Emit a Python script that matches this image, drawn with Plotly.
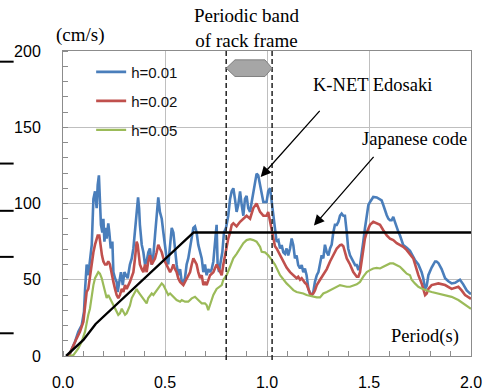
import plotly.graph_objects as go

# ---------------- data ----------------
period_h001 = [0.025, 0.034, 0.059, 0.075, 0.092, 0.103, 0.108, 0.116, 0.124, 0.132, 0.141, 0.149, 0.157, 0.165, 0.170, 0.176, 0.181, 0.186, 0.193, 0.198,
               0.203, 0.209, 0.214, 0.222, 0.227, 0.234, 0.242, 0.247, 0.255, 0.263, 0.268, 0.276, 0.284, 0.293, 0.301, 0.309, 0.317, 0.328, 0.337, 0.345,
               0.353, 0.361, 0.368, 0.373, 0.377, 0.386, 0.394, 0.402, 0.410, 0.418, 0.426, 0.435, 0.443, 0.451, 0.459, 0.467, 0.475, 0.484, 0.492, 0.500,
               0.508, 0.516, 0.525, 0.533, 0.541, 0.549, 0.557, 0.565, 0.574, 0.582, 0.590, 0.598, 0.606, 0.614, 0.623, 0.631, 0.639, 0.647, 0.655, 0.663,
               0.672, 0.680, 0.688, 0.696, 0.704, 0.712, 0.721, 0.729, 0.737, 0.745, 0.753, 0.758, 0.765, 0.773, 0.781, 0.789, 0.799, 0.810, 0.819, 0.827,
               0.835, 0.843, 0.851, 0.859, 0.868, 0.876, 0.884, 0.892, 0.900, 0.908, 0.917, 0.925, 0.933, 0.941, 0.949, 0.957, 0.966, 0.974, 0.982, 0.998,
               1.006, 1.015, 1.023, 1.031, 1.039, 1.047, 1.056, 1.064, 1.072, 1.080, 1.088, 1.096, 1.104, 1.113, 1.121, 1.129, 1.137, 1.145, 1.153, 1.162,
               1.170, 1.178, 1.186, 1.194, 1.203, 1.211, 1.219, 1.227, 1.235, 1.244, 1.252, 1.260, 1.268, 1.276, 1.284, 1.293, 1.301, 1.309, 1.317, 1.325,
               1.333, 1.342, 1.350, 1.358, 1.366, 1.374, 1.382, 1.391, 1.398, 1.407, 1.415, 1.423, 1.432, 1.440, 1.448, 1.456, 1.464, 1.472, 1.480, 1.489,
               1.497, 1.505, 1.513, 1.521, 1.538, 1.554, 1.562, 1.570, 1.579, 1.587, 1.595, 1.603, 1.611, 1.619, 1.627, 1.636, 1.644, 1.652, 1.660, 1.668,
               1.685, 1.701, 1.709, 1.725, 1.742, 1.758, 1.766, 1.775, 1.783, 1.791, 1.807, 1.824, 1.831, 1.840, 1.856, 1.873, 1.889, 1.905, 1.922, 1.938,
               1.946, 1.962, 1.979, 1.995, 2.000]
sv_h001 = [0, 1.8, 9.4, 15.9, 20.3, 29, 43, 60, 53, 64, 73, 103, 108, 97, 112, 118.5, 105, 86, 81, 90,
           75, 84, 77, 87, 81, 70.5, 75, 55, 51, 48.6, 42, 48.6, 55, 46.5, 55, 53, 51, 60, 64, 70.5,
           81, 92, 104, 97, 86, 73, 68, 60, 62, 68, 70.5, 60, 66, 79, 92, 104, 94.5, 90, 81, 73,
           64, 60, 70.5, 84, 81, 68, 60, 53, 57, 48.6, 48.6, 51, 60, 64, 70.5, 77, 84, 85, 81, 73,
           68, 64, 55, 60, 53, 57, 55, 57, 62, 73, 86, 60, 55, 62, 68, 81, 84, 92, 103, 108,
           110, 103, 94.5, 99, 108, 99, 92, 103, 105, 97, 94.5, 101, 108, 114, 119.6, 118.5, 112, 105, 101, 101,
           108, 110, 101, 90, 81, 75, 76, 70.5, 72.7, 68, 67, 70.5, 66, 70.5, 77, 72.7, 64, 66, 59.6, 57.4,
           59.6, 55, 57.4, 53, 44, 41, 40, 42, 48.6, 53, 55, 62, 66, 64, 73, 68, 66, 70.5, 73, 81,
           86, 86, 88, 92, 93.4, 92, 92, 81, 70.5, 66, 64, 61.7, 59.6, 59.6, 56.3, 59.6, 66, 75, 83.6, 92.3,
           99, 101, 103, 104.3, 104, 103, 102, 99, 94.5, 92.3, 90, 89, 89, 91.2, 88, 83.6, 81.4, 79, 76, 72.7,
           71, 69, 67, 63, 60, 55, 51, 44, 46, 53, 58, 62, 62, 61, 57, 51, 49, 47.6, 48, 49,
           50, 47, 43, 41, 41]

period_h002 = [0.025, 0.034, 0.067, 0.083, 0.100, 0.108, 0.116, 0.124, 0.132, 0.141, 0.149, 0.157, 0.165, 0.170, 0.178, 0.185, 0.191, 0.198, 0.206, 0.214,
               0.222, 0.230, 0.239, 0.247, 0.255, 0.263, 0.271, 0.279, 0.288, 0.296, 0.304, 0.312, 0.328, 0.345, 0.353, 0.361, 0.366, 0.373, 0.377, 0.386,
               0.394, 0.402, 0.410, 0.418, 0.426, 0.435, 0.443, 0.451, 0.459, 0.467, 0.475, 0.484, 0.492, 0.500, 0.508, 0.516, 0.525, 0.533, 0.541, 0.549,
               0.557, 0.565, 0.574, 0.590, 0.606, 0.623, 0.631, 0.639, 0.647, 0.655, 0.663, 0.672, 0.680, 0.688, 0.696, 0.704, 0.721, 0.737, 0.753, 0.770,
               0.778, 0.786, 0.794, 0.802, 0.810, 0.819, 0.827, 0.835, 0.851, 0.868, 0.884, 0.900, 0.917, 0.933, 0.949, 0.966, 0.982, 0.998, 1.006, 1.015,
               1.023, 1.031, 1.039, 1.047, 1.064, 1.080, 1.096, 1.113, 1.129, 1.145, 1.153, 1.162, 1.170, 1.178, 1.186, 1.194, 1.203, 1.211, 1.219, 1.227,
               1.235, 1.244, 1.260, 1.276, 1.293, 1.309, 1.325, 1.342, 1.358, 1.366, 1.374, 1.382, 1.391, 1.407, 1.423, 1.440, 1.448, 1.456, 1.464, 1.472,
               1.480, 1.489, 1.505, 1.521, 1.538, 1.554, 1.570, 1.587, 1.603, 1.619, 1.636, 1.652, 1.668, 1.685, 1.701, 1.717, 1.742, 1.758, 1.775, 1.783,
               1.791, 1.807, 1.840, 1.873, 1.905, 1.938, 1.954, 1.971, 2.000]
sv_h002 = [0, 1.8, 11.6, 15.9, 22.5, 33.4, 42, 44, 53, 60, 68, 73, 77, 79, 79, 70.5, 66, 62, 60, 60,
           62, 60, 53, 48.6, 44, 40, 38, 40, 44, 42, 46.5, 44, 48.6, 55, 64, 75, 73, 64, 60, 57,
           55, 60, 55, 62, 66, 60, 62, 64, 68, 73, 70.5, 68, 64, 62, 60, 57, 55, 57, 60, 57,
           55, 51, 48.6, 46.5, 51, 55, 60, 64, 62, 60, 55, 51, 53, 46.5, 48.6, 46.5, 53, 55, 60, 55,
           53, 60, 66, 73, 77, 81, 86, 87, 85, 88, 90, 92, 90, 97, 100, 94.5, 92, 92, 94.5, 88,
           81, 77, 72, 70.5, 66, 62, 58, 55, 53, 51, 52, 50, 51, 49, 48, 47, 44, 41, 40, 41,
           43, 46.5, 50, 53, 57, 62, 66, 70.5, 72.7, 73, 72, 68, 64, 60, 55, 52, 52, 55, 62, 70.5,
           77, 81, 86, 88, 87, 86, 82.5, 79, 77, 76, 74, 73, 71.6, 69.4, 67, 64, 53, 47.6, 40, 41,
           44, 46.5, 47.6, 46.5, 44, 45.4, 43, 40, 37.5]

period_h005 = [0.030, 0.051, 0.075, 0.092, 0.108, 0.116, 0.124, 0.132, 0.141, 0.149, 0.157, 0.165, 0.173, 0.181, 0.190, 0.198, 0.206, 0.214, 0.222, 0.230,
               0.239, 0.247, 0.255, 0.263, 0.271, 0.279, 0.288, 0.296, 0.304, 0.312, 0.320, 0.328, 0.337, 0.345, 0.353, 0.361, 0.369, 0.386, 0.402, 0.410,
               0.418, 0.435, 0.443, 0.459, 0.475, 0.484, 0.492, 0.508, 0.516, 0.525, 0.541, 0.557, 0.574, 0.582, 0.598, 0.614, 0.631, 0.647, 0.663, 0.680,
               0.696, 0.704, 0.712, 0.721, 0.729, 0.737, 0.753, 0.770, 0.778, 0.786, 0.802, 0.819, 0.835, 0.851, 0.868, 0.884, 0.900, 0.917, 0.933, 0.949,
               0.966, 0.974, 0.990, 1.006, 1.023, 1.039, 1.064, 1.080, 1.096, 1.113, 1.129, 1.145, 1.162, 1.178, 1.194, 1.211, 1.227, 1.244, 1.260, 1.276,
               1.293, 1.309, 1.342, 1.358, 1.391, 1.407, 1.440, 1.456, 1.472, 1.489, 1.505, 1.521, 1.538, 1.554, 1.570, 1.587, 1.603, 1.619, 1.636, 1.652,
               1.668, 1.685, 1.701, 1.709, 1.725, 1.742, 1.758, 1.775, 1.791, 1.807, 1.840, 1.873, 1.905, 1.938, 1.971, 2.000]
sv_h005 = [0, 0.6, 5, 9.4, 16, 22.5, 27, 31, 40, 46.5, 51, 53, 55, 54, 51, 46.5, 42, 38, 40, 38,
           35.6, 33.4, 31, 29, 27, 28, 31, 29, 27, 28, 31, 33, 38, 40, 43, 44, 42, 39, 35.6, 34.5,
           38, 41, 40, 43, 46.5, 47.6, 46.5, 42, 40, 41, 39, 36.7, 35.6, 36.7, 35.6, 35.6, 37.8, 38.8, 36.7, 34.5,
           34.5, 33.4, 30, 33.4, 37.8, 40, 44, 45.4, 46.5, 50, 53, 58.5, 64, 67, 70.5, 74, 76, 76.6, 76, 75,
           71.6, 68.3, 68, 66, 63, 60, 53, 50, 47.6, 45.4, 43.2, 42, 41.7, 41, 40, 39.5, 38.8, 38.4, 38.4, 41,
           42, 43, 45.4, 46.5, 45.4, 45.4, 47, 48.6, 52, 55, 56.3, 57.4, 57.8, 57.4, 58.5, 59.6, 60.7, 60.7, 59.6, 58.5,
           56.3, 54, 53, 50, 47.6, 45.4, 44.3, 43.2, 42.6, 42, 41, 40, 38.8, 36.7, 33.4, 31]

period_code = [0.015, 0.100, 0.160, 0.640, 2.000]
sv_code = [0, 10.5, 21, 81, 81]

band_bounds = [0.80, 1.025]          # periodic band of rack frame
series_names = ["h=0.01", "h=0.02", "h=0.05"]
series_colors = ["#4A7EBB", "#C0504D", "#9BBB59"]
x_ticks = [0.0, 0.5, 1.0, 1.5, 2.0]
y_ticks = [0, 50, 100, 150, 200]
side_marks = [193.0, 126.2, 95.2, 65.0, 14.9]   # stray marks on the left edge

# ---------------- figure ----------------
fig = go.Figure()
series = [(period_h001, sv_h001), (period_h002, sv_h002), (period_h005, sv_h005)]
widths = [2.6, 2.6, 2.2]
for i, (px_, py_) in enumerate(series):
    fig.add_trace(go.Scatter(x=px_, y=py_, mode="lines", name=series_names[i],
                             legendgroup=series_names[i],
                             line=dict(color=series_colors[i], width=widths[i])))
fig.add_trace(go.Scatter(x=period_code, y=sv_code, mode="lines", showlegend=False,
                         line=dict(color="black", width=2.4)))

serif = "Liberation Serif"
sans = "Liberation Sans"

shapes = []
for b in band_bounds:
    shapes.append(dict(type="line", xref="x", yref="paper", x0=b, x1=b, y0=-0.013, y1=1.0,
                       line=dict(color="#222222", width=1.5, dash="5px,3px")))
# hexagon band marker
hx = [band_bounds[0], 0.843, 0.990, band_bounds[1]]
shapes.append(dict(type="path", xref="x", yref="y",
                   path=f"M {hx[0]},188.7 L {hx[1]},194.2 L {hx[2]},194.2 L {hx[3]},188.7 L {hx[2]},183.3 L {hx[1]},183.3 Z",
                   fillcolor="#A6A6A6", line=dict(color="#808080", width=1)))
for m in side_marks:
    shapes.append(dict(type="line", xref="paper", yref="y", x0=-0.155, x1=-0.121, y0=m, y1=m,
                       line=dict(color="black", width=2)))

annotations = [
    dict(text="(cm/s)", x=0.044, y=1.01, xref="paper", yref="paper", xanchor="center", yanchor="bottom",
         showarrow=False, font=dict(family=serif, size=19, color="black")),
    dict(text="Periodic band<br>of rack frame", x=0.9, y=0.993, xref="x", yref="paper",
         xanchor="center", yanchor="bottom", showarrow=False,
         font=dict(family=serif, size=19, color="black")),
    dict(text="K-NET Edosaki", x=1.518, y=178, xref="x", yref="y", xanchor="center", yanchor="middle",
         showarrow=False, font=dict(family=serif, size=18.5, color="black")),
    dict(text="Japanese code", x=1.725, y=142, xref="x", yref="y", xanchor="center", yanchor="middle",
         showarrow=False, font=dict(family=serif, size=18.5, color="black")),
    dict(text="Period(s)", x=1.775, y=12.5, xref="x", yref="y", xanchor="center", yanchor="middle",
         showarrow=False, font=dict(family=serif, size=18.5, color="black")),
    dict(x=0.969, y=117.4, ax=1.265, ay=161.7, xref="x", yref="y", axref="x", ayref="y", text="",
         showarrow=True, arrowhead=2, arrowsize=1.6, arrowwidth=1.3, arrowcolor="black"),
    dict(x=1.230, y=85.5, ax=1.529, ay=131.6, xref="x", yref="y", axref="x", ayref="y", text="",
         showarrow=True, arrowhead=2, arrowsize=1.6, arrowwidth=1.3, arrowcolor="black"),
]

fig.update_layout(
    width=485, height=390,
    margin=dict(l=63, r=14, t=51, b=34),
    paper_bgcolor="white", plot_bgcolor="white",
    showlegend=True,
    legend=dict(x=0.069, y=0.985, xanchor="left", yanchor="top", bgcolor="rgba(0,0,0,0)",
                font=dict(family=sans, size=15, color="#111111"), tracegroupgap=6.5,
                itemwidth=30),
    shapes=shapes,
    annotations=annotations,
    font=dict(family=sans, size=16, color="black"),
)
fig.update_xaxes(range=[0, 2], tickvals=x_ticks, ticktext=[f"{v:.1f}" for v in x_ticks],
                 showgrid=True, gridcolor="#BFBFBF", gridwidth=1,
                 showline=True, linecolor="#8C8C8C", linewidth=1, mirror=True,
                 ticks="", ticklabelstandoff=12, zeroline=False, automargin=False,
                 tickfont=dict(family=sans, size=16, color="black"),
                 minor=dict(dtick=0.1, ticks="inside", ticklen=5, tickcolor="#8C8C8C", showgrid=False))
fig.update_yaxes(range=[0, 200], tickvals=y_ticks,
                 showgrid=True, gridcolor="#BFBFBF", gridwidth=1,
                 showline=True, linecolor="#8C8C8C", linewidth=1, mirror=True,
                 ticks="", ticklabelstandoff=18, zeroline=False, automargin=False,
                 tickfont=dict(family=sans, size=16, color="black"),
                 minor=dict(dtick=10, ticks="inside", ticklen=5, tickcolor="#8C8C8C", showgrid=False))

fig.write_html("out.html")
